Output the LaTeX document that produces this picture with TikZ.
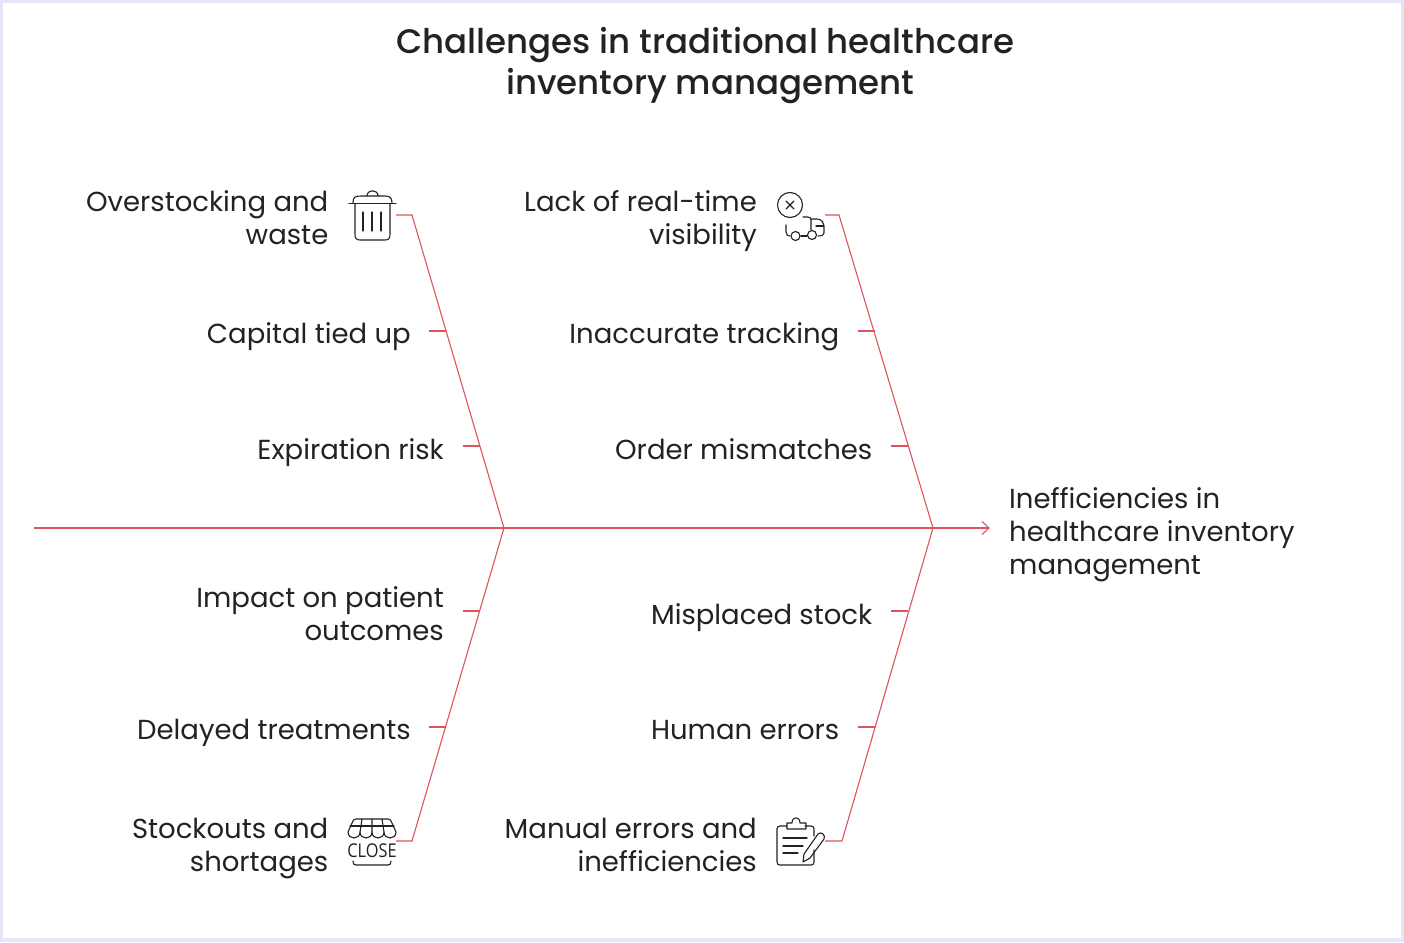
\documentclass[tikz,border=0pt]{standalone}
\usepackage{fontspec}
\setmainfont{Poppins}
\newfontfamily\titlefont{Poppins Medium}
\newfontfamily\iconfont{Open Sans}
\definecolor{bone}{HTML}{DE535C}
\definecolor{ink}{HTML}{222222}
\definecolor{frame}{HTML}{E4E5F6}
\tikzset{
  lbl/.style={text=ink,font=\fontsize{27.5}{33}\selectfont,align=right,anchor=east,inner sep=0pt},
  lblone/.style={lbl,text height=20pt,text depth=7pt},
  lblL/.style={text=ink,font=\fontsize{27.5}{33}\selectfont,align=left,anchor=west,inner sep=0pt},
  ttl/.style={text=ink,font=\titlefont\fontsize{34}{41}\selectfont,align=center,inner sep=0pt},
  bonel/.style={draw=bone,line width=1.1pt,line join=miter},
  ico/.style={draw=ink,line width=1.1pt,line cap=round,line join=round,fill=none},
}
\begin{document}
\begin{tikzpicture}[x=1pt,y=-1pt]
\useasboundingbox (0,0) rectangle (1404,942);
\fill[frame] (0,0) rectangle (1404,942);
\fill[white] (3,3) rectangle (1401,938);
\node[ttl] (title) at (705.3,66) {Challenges in traditional healthcare\\\hspace*{10pt}inventory management};

% spine
\coordinate (tail) at (34,528);
\coordinate (j1) at (504,528);
\coordinate (j2) at (933,528);
\coordinate (head) at (989,528);
\draw[bonel] (tail) -- (j1) -- (j2) -- (head);
\draw[bonel] (982,521.5) -- (989,528) -- (982,534.5);

% main bones
\coordinate (a0) at (396,215); \coordinate (a1) at (412,215);
\coordinate (b0) at (825,215); \coordinate (b1) at (839,215);
\coordinate (c0) at (396,841); \coordinate (c1) at (412,841);
\coordinate (d0) at (825,841); \coordinate (d1) at (842,841);
\draw[bonel] (a0) -- (a1) -- (j1) -- (c1) -- (c0);
\draw[bonel] (b0) -- (b1) -- (j2) -- (d1) -- (d0);

% labels
\node[lbl] (n1) at (328.5,218) {Overstocking and\\waste};
\node[lblone] (n2) at (411,336.5) {Capital tied up};
\node[lblone] (n3) at (444,452.5) {Expiration risk};
\node[lbl] (n4) at (757,221) {Lack of real-time\\visibility};
\node[lblone] (n5) at (839.5,336.5) {Inaccurate tracking};
\node[lblone] (n6) at (872.5,452.5) {Order mismatches};
\node[lbl] (n7) at (444,614) {Impact on patient\\outcomes};
\node[lblone] (n8) at (411,732.5) {Delayed treatments};
\node[lbl] (n9) at (328.5,849) {Stockouts and\\shortages};
\node[lblone] (n10) at (872.5,617.5) {Misplaced stock};
\node[lblone] (n11) at (839.5,732.5) {Human errors};
\node[lbl] (n12) at (757,845) {Manual errors and\\inefficiencies};
\node[lblL] (goal) at (1009,535) {Inefficiencies in\\healthcare inventory\\management};

% ribs
\foreach \xa/\xb/\yy/\nm in {429/446/331/r2, 463/480/446/r3, 858/875/331/r5, 891/908/446/r6, 463/480/611/r7, 429/446/727/r8, 891/908/611/r10, 858/875/727/r11}{
  \coordinate (\nm a) at (\xa,\yy);
  \coordinate (\nm b) at (\xb,\yy);
  \draw[bonel] (\nm a) -- (\nm b);
}

% trash icon
\draw[ico] (349,203.5) -- (396,203.5);
\draw[ico] (353,203) .. controls (353,197) and (355,196) .. (361,196) -- (385,196) .. controls (390,196) and (392,198) .. (392,203);
\draw[ico] (367,196) .. controls (367,189) and (378,189) .. (378,196);
\draw[ico] (355,204) -- (355,234) .. controls (355,238) and (356,240) .. (360,240) -- (385,240) .. controls (389,240) and (390,238) .. (390,234) -- (390,204);
\draw[ico] (363,212) -- (363,231) (372,212) -- (372,231) (381,212) -- (381,231);

% truck icon
\draw[ico] (790,205) circle (12.5);
\draw[ico] (786,201) -- (794,209) (794,201) -- (786,209);
\draw[ico] (786,225) -- (786,232) .. controls (786,235) and (788,236) .. (790,236);
\draw[ico] (801,236) -- (807,236);
\draw[ico] (795.5,236) circle (4.5);
\draw[ico] (812,235) circle (4.5);
\draw[ico] (803,217) -- (808,217) .. controls (810,217) and (811,218) .. (811,220) -- (811,230);
\draw[ico] (811,219) -- (817,219) .. controls (822,219) and (824,223) .. (824,228) -- (824,233) .. controls (824,235) and (822,236) .. (818,236);
\draw[ico] (816,226) -- (824,226);

% shop icon
\draw[ico] (352,823) .. controls (353,820) and (354,819) .. (356,819) -- (388,819) .. controls (390,819) and (391,820) .. (392,823) -- (396,832) .. controls (396,840) and (384,840) .. (384,832) .. controls (384,840) and (372,840) .. (372,832) .. controls (372,840) and (360,840) .. (360,832) .. controls (360,840) and (348,840) .. (348,832) -- cycle;
\draw[ico] (350,826) -- (394,826);
\draw[ico] (362,819) -- (360,832) (372,819) -- (372,832) (382,819) -- (384,832);
\node[text=ink,font=\iconfont\fontsize{19}{19}\selectfont,inner sep=0pt] (closeicon) at (372,851) {\scalebox{0.86}[1]{CLOSE}};
\draw[ico] (353,861) .. controls (353,864) and (354,865) .. (356,865) -- (388,865) .. controls (390,865) and (391,864) .. (391,861);

% clipboard icon
\draw[ico] (787,826) -- (780,826) .. controls (778,826) and (777,827) .. (777,829) -- (777,862) .. controls (777,864) and (778,865) .. (780,865) -- (811,865) .. controls (813,865) and (814,864) .. (814,862) -- (814,850);
\draw[ico] (805,826) -- (811,826) .. controls (813,826) and (814,827) .. (814,829) -- (814,836);
\draw[ico] (787,823) -- (787,829) -- (806,829) -- (806,823) -- (800,823) .. controls (800,816) and (792,816) .. (792,823) -- cycle;
\draw[ico] (783,838) -- (807,838) (783,846) -- (803,846) (783,853) -- (798,853);
\draw[ico] (804,854) -- (818,834) .. controls (821,831) and (826,835) .. (824,839) -- (810,858) -- (803,862) -- cycle;
\end{tikzpicture}
\end{document}
